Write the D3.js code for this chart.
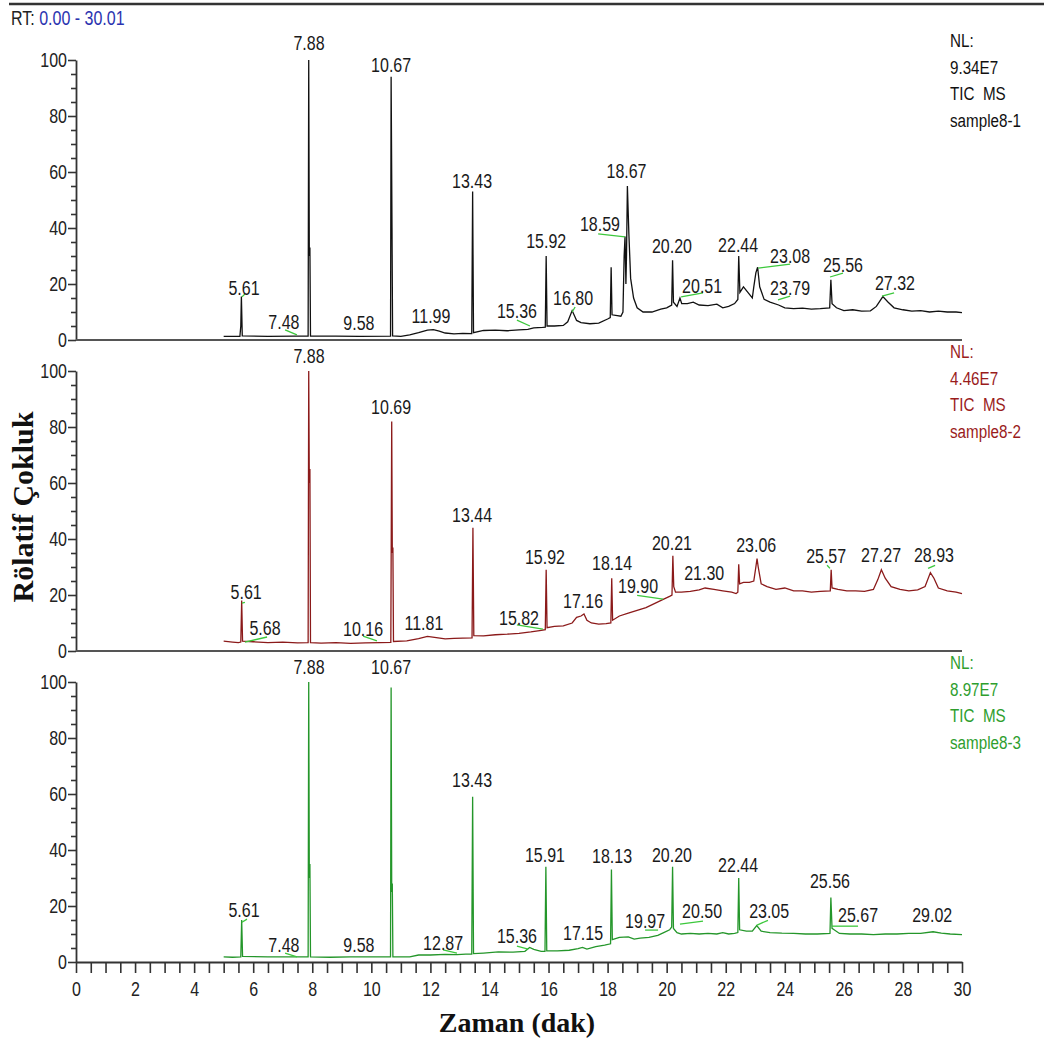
<!DOCTYPE html>
<html>
<head>
<meta charset="utf-8">
<script src="https://cdn.jsdelivr.net/npm/d3@7"></script>
<style>
  body { margin: 0; background: #fff; }
  svg { display: block; }
  .narrow { font-family: 'Liberation Sans', Arial, sans-serif; white-space: pre; }
  .serif { font-family: 'Liberation Serif', 'Times New Roman', serif; font-weight: bold; }
</style>
</head>
<body>
<svg id="chart"></svg>
<script>
// ---- data: [time (min), relative abundance %] ----
const traceSample1 = [
  [5.00, 1.3], [5.55, 1.3], [5.58, 5], [5.60, 15.5], [5.63, 1.5], [6.5, 1.3], [7.40, 1.4], [7.86, 1.4],
  [7.88, 100], [7.90, 30], [7.92, 33], [7.94, 1.4], [8.8, 1.4], [9.6, 1.3], [10.65, 1.4],
  [10.67, 94], [10.70, 40], [10.72, 1.5], [11.0, 1.3], [11.3, 1.8], [11.6, 2.6], [11.9, 3.5],
  [12.1, 3.7], [12.3, 3.2], [12.5, 2.5], [12.8, 2.2], [13.1, 2.4], [13.40, 2.3], [13.43, 53],
  [13.46, 2.6], [13.8, 3.4], [14.2, 3.5], [14.6, 3.3], [15.0, 3.6], [15.3, 3.8], [15.5, 4.3],
  [15.8, 4.5], [15.89, 4.6], [15.92, 30], [15.95, 5], [16.2, 5.0], [16.5, 5.2], [16.65, 6.5],
  [16.8, 10.5], [16.95, 7], [17.1, 6.2], [17.4, 5.8], [17.7, 6.0], [18.0, 7.5], [18.09, 8],
  [18.12, 26], [18.15, 9], [18.45, 8.5], [18.52, 10], [18.56, 30], [18.59, 37], [18.62, 20],
  [18.64, 30], [18.67, 55], [18.72, 38], [18.78, 22], [18.88, 15], [19.0, 11.5], [19.2, 10],
  [19.5, 10], [19.8, 11], [20.0, 11.5], [20.17, 12.5], [20.20, 28.5], [20.23, 13.5], [20.35, 12],
  [20.45, 15], [20.51, 13], [20.7, 13], [20.9, 13.5], [21.1, 12.5], [21.4, 12.3], [21.7, 12.8],
  [21.9, 11.5], [22.1, 12], [22.3, 13], [22.41, 14.5], [22.44, 30], [22.48, 17], [22.6, 19],
  [22.75, 17], [22.9, 15], [22.95, 19], [23.02, 24], [23.08, 26], [23.15, 19], [23.3, 14.5],
  [23.5, 13.5], [23.79, 12.5], [24.0, 11.5], [24.3, 11.2], [24.6, 11.4], [24.9, 11], [25.2, 11.2],
  [25.52, 11.5], [25.56, 21.5], [25.6, 13], [25.75, 11.5], [26.0, 10.5], [26.3, 10.8], [26.6, 10.3],
  [26.9, 10.4], [27.1, 12], [27.32, 15.5], [27.5, 13.5], [27.7, 11.5], [28.0, 10.8], [28.3, 10.3],
  [28.6, 10.5], [28.9, 10], [29.2, 10.3], [29.5, 10], [29.8, 10], [30.0, 9.8]
];
const traceSample2 = [
  [5.00, 3.5], [5.3, 3.2], [5.5, 3.0], [5.58, 3.2], [5.61, 18], [5.64, 3.5], [6.0, 3.3], [6.5, 3.0],
  [7.0, 3.2], [7.5, 2.9], [7.86, 3], [7.88, 100], [7.90, 60], [7.92, 65], [7.94, 3], [8.3, 2.8],
  [8.8, 3.0], [9.3, 2.7], [9.8, 2.9], [10.3, 3.0], [10.66, 3.1], [10.69, 82], [10.71, 35],
  [10.73, 37], [10.75, 3.4], [11.2, 3.6], [11.6, 4.4], [11.9, 5.2], [12.2, 4.8], [12.5, 4.3],
  [12.8, 4.5], [13.1, 4.6], [13.41, 4.7], [13.44, 44], [13.47, 5.5], [13.8, 5.4], [14.2, 5.8],
  [14.6, 6.0], [15.0, 6.3], [15.4, 6.8], [15.7, 7.3], [15.89, 7.6], [15.92, 29], [15.95, 8.3],
  [16.2, 8.8], [16.5, 9], [16.8, 10], [16.95, 12], [17.1, 12.5], [17.2, 13.2], [17.3, 11],
  [17.45, 10], [17.7, 9.6], [17.95, 9.8], [18.11, 10], [18.14, 26], [18.17, 11], [18.4, 12.5],
  [18.7, 13.5], [19.0, 14.5], [19.3, 15.5], [19.6, 17], [19.9, 18.5], [20.1, 19.5], [20.18, 20],
  [20.21, 34], [20.24, 23], [20.3, 21], [20.5, 21], [20.8, 21.3], [21.1, 21.8], [21.3, 22.5],
  [21.6, 22], [21.9, 21.5], [22.2, 21], [22.35, 20.5], [22.41, 21], [22.44, 31], [22.47, 24],
  [22.6, 24.5], [22.8, 24.5], [22.95, 25], [23.02, 30], [23.06, 33], [23.1, 30], [23.2, 24],
  [23.4, 23], [23.7, 22], [24.0, 22.5], [24.3, 21.5], [24.6, 21.5], [24.9, 21], [25.2, 21.3],
  [25.54, 21.5], [25.57, 29], [25.6, 22.5], [25.8, 22], [26.1, 21.5], [26.4, 21.5], [26.7, 21.3],
  [27.0, 22], [27.15, 25.5], [27.27, 29], [27.4, 26], [27.6, 23], [27.9, 22], [28.2, 21.5],
  [28.5, 21.8], [28.75, 23], [28.93, 28], [29.05, 26], [29.2, 22.5], [29.5, 21.5], [29.8, 21],
  [30.0, 20.5]
];
const traceSample3 = [
  [5.00, 1.8], [5.3, 1.7], [5.58, 1.8], [5.61, 15], [5.64, 2], [6.5, 1.8], [7.3, 1.8], [7.86, 1.8],
  [7.88, 100], [7.90, 30], [7.92, 35], [7.94, 1.8], [8.6, 1.7], [9.3, 1.8], [10.0, 1.8], [10.65, 1.8],
  [10.67, 98], [10.69, 25], [10.71, 28], [10.73, 1.8], [11.3, 1.8], [11.6, 2.5], [12.0, 2.5],
  [12.5, 2.7], [12.9, 2.6], [13.2, 2.8], [13.40, 2.8], [13.43, 59], [13.46, 3], [13.8, 3.2],
  [14.3, 3.6], [14.8, 3.5], [15.2, 3.8], [15.36, 5.2], [15.5, 4.5], [15.75, 3.8], [15.88, 3.8],
  [15.91, 34], [15.94, 4], [16.3, 4.0], [16.7, 4.2], [17.0, 4.8], [17.15, 5.2], [17.3, 4.6],
  [17.6, 5.5], [17.9, 6], [18.10, 6.5], [18.13, 33], [18.16, 8], [18.4, 8.8], [18.7, 9], [18.9, 8.2],
  [19.1, 8.5], [19.4, 8.8], [19.7, 9.5], [19.9, 10.5], [20.1, 11.5], [20.17, 12.5], [20.20, 34],
  [20.23, 12], [20.35, 10.5], [20.5, 10], [20.8, 10.2], [21.1, 10], [21.4, 10.2], [21.7, 10],
  [21.9, 10.5], [22.1, 10], [22.3, 10.2], [22.41, 10.5], [22.44, 30], [22.47, 11.5], [22.7, 11],
  [22.9, 11], [23.05, 13], [23.2, 11], [23.5, 10.5], [23.9, 10.3], [24.3, 10.2], [24.7, 10],
  [25.1, 10], [25.53, 10.2], [25.56, 23], [25.6, 12], [25.67, 11.5], [25.85, 10.2], [26.2, 10],
  [26.6, 10], [27.0, 9.8], [27.4, 10], [27.8, 10], [28.2, 10.2], [28.6, 10.2], [29.02, 10.8],
  [29.3, 10.3], [29.6, 10], [30.0, 9.8]
];

// peak labels: [text, time, abundance] (text baseline centre)
const labelsSample1 = [
  ['5.61', 5.69, 16], ['7.48', 7.04, 3.9], ['7.88', 7.89, 103.6], ['9.58', 9.58, 3.6],
  ['10.67', 10.67, 95.7], ['11.99', 12.02, 6], ['13.43', 13.41, 54.3], ['15.36', 14.93, 7.9],
  ['15.92', 15.92, 33], ['16.80', 16.83, 12.5], ['18.59', 17.74, 38.9], ['18.67', 18.64, 57.9],
  ['20.20', 20.18, 31], ['20.51', 21.2, 16.8], ['22.44', 22.42, 31.4], ['23.08', 24.18, 27.5],
  ['23.79', 24.18, 16], ['25.56', 25.97, 24.3], ['27.32', 27.73, 17.9]
];
const labelsSample2 = [
  ['5.61', 5.76, 18.5], ['5.68', 6.4, 5.7], ['7.88', 7.89, 102.8], ['10.16', 9.72, 5.3],
  ['10.69', 10.67, 84.7], ['11.81', 11.78, 7.5], ['13.44', 13.41, 45.9], ['15.82', 15.0, 9.3],
  ['15.92', 15.88, 31], ['17.16', 17.17, 15.3], ['18.14', 18.15, 28.8], ['19.90', 19.03, 20.6],
  ['20.21', 20.18, 35.9], ['21.30', 21.27, 25.3], ['23.06', 23.03, 35.2], ['25.57', 25.4, 31.3],
  ['27.27', 27.26, 31.7], ['28.93', 29.05, 31.7]
];
const labelsSample3 = [
  ['5.61', 5.69, 16], ['7.48', 7.04, 3.5], ['7.88', 7.89, 102.8], ['9.58', 9.58, 3.5],
  ['10.67', 10.67, 102.8], ['12.87', 12.43, 4.3], ['13.43', 13.41, 62.6], ['15.36', 14.93, 6.8],
  ['15.91', 15.88, 35.6], ['17.15', 17.17, 7.8], ['18.13', 18.15, 35.2], ['19.97', 19.27, 12.1],
  ['20.20', 20.18, 35.6], ['20.50', 21.2, 15.7], ['22.44', 22.42, 32], ['23.05', 23.47, 15.7],
  ['25.56', 25.53, 26.3], ['25.67', 26.48, 14.2], ['29.02', 28.99, 14.2]
];

// green leader lines: [t1, v1, t2, v2]
const leadersSample1 = [
  [5.62, 15.4, 5.72, 16.4], [7.08, 3.6, 7.48, 1.8], [14.93, 7.1, 15.37, 5], [16.8, 10, 16.9, 11.8],
  [17.68, 37.9, 18.59, 36.8], [20.49, 15.4, 21.23, 16.8], [23.1, 25.7, 24.18, 27.1],
  [23.77, 14.3, 24.18, 15.7], [25.53, 22.5, 25.97, 23.9], [27.29, 15.7, 27.7, 16.8]
];
const leadersSample2 = [
  [5.62, 17.1, 5.72, 17.4], [5.72, 3.2, 6.47, 5], [9.72, 5.3, 10.19, 3.6], [14.93, 9.3, 15.81, 7.8],
  [19.0, 19.9, 19.88, 18.5], [25.43, 30.6, 25.53, 29.5], [28.85, 29.5, 29.09, 30.6]
];
const leadersSample3 = [
  [5.62, 14.2, 5.79, 15.3], [7.08, 3.2, 7.48, 1.8], [12.43, 4.3, 12.9, 3.2], [14.93, 5.7, 15.31, 4.6],
  [19.27, 11.4, 19.71, 11.4], [20.45, 13.5, 21.23, 14.6], [23.06, 13.2, 23.43, 14.9],
  [25.6, 12.8, 26.48, 12.8]
];

const nlSample1 = ['NL:', '9.34E7', 'TIC  MS', 'sample8-1'];
const nlSample2 = ['NL:', '4.46E7', 'TIC  MS', 'sample8-2'];
const nlSample3 = ['NL:', '8.97E7', 'TIC  MS', 'sample8-3'];

const yTicks = d3.range(0, 101, 5);
const xTicks = d3.range(0, 30.01, 0.5);

// ---- layout ----
const width = 1044, height = 1041;
const squeeze = 0.8;   // the original uses a condensed face
const svg = d3.select('#chart').attr('width', width).attr('height', height);

const x = d3.scaleLinear().domain([0, 30]).range([76, 962]);

const panels = [
  { trace: traceSample1, labels: labelsSample1, leaders: leadersSample1, nl: nlSample1, zero: 340, color: '#111111', nlColor: '#111111' },
  { trace: traceSample2, labels: labelsSample2, leaders: leadersSample2, nl: nlSample2, zero: 651, color: '#8b1a1a', nlColor: '#9a1c1c' },
  { trace: traceSample3, labels: labelsSample3, leaders: leadersSample3, nl: nlSample3, zero: 962, color: '#24962a', nlColor: '#2e9e2e' }
];

// top rule and RT header
svg.append('line').attr('x1', 9).attr('x2', width).attr('y1', 4).attr('y2', 4)
  .attr('stroke', '#333').attr('stroke-width', 2.5);
const rt = svg.append('text').attr('class', 'narrow')
  .attr('transform', `translate(11,25) scale(${squeeze},1)`).attr('font-size', 20);
rt.append('tspan').attr('fill', '#222').text('RT: ');
rt.append('tspan').attr('fill', '#2b34b0').text('0.00 - 30.01');

panels.forEach((p, i) => {
  const y = d3.scaleLinear().domain([0, 100]).range([p.zero, p.zero - 280]);
  const g = svg.append('g');

  // y axis
  const yAxis = d3.axisLeft(y).tickValues(yTicks).tickSizeOuter(0)
    .tickFormat(d => d % 20 === 0 ? d : '');
  const ya = g.append('g').attr('class', 'narrow').attr('transform', `translate(${x(0)},0)`).call(yAxis);
  ya.selectAll('.tick line').attr('x2', d => d % 20 === 0 ? -8 : -5).attr('stroke', '#333').attr('stroke-width', 1.6);
  ya.selectAll('.tick text').attr('x', -9 / squeeze).attr('transform', `scale(${squeeze},1)`)
    .attr('font-size', 20).attr('fill', '#222');
  ya.select('.domain').attr('stroke', '#333').attr('stroke-width', 1.8);

  // zero line / x axis
  if (i < 2) {
    g.append('line').attr('x1', x(0)).attr('x2', x(30)).attr('y1', p.zero).attr('y2', p.zero)
      .attr('stroke', '#555').attr('stroke-width', 2.2);
  } else {
    const xAxis = d3.axisBottom(x).tickValues(xTicks).tickSize(11).tickSizeOuter(0)
      .tickFormat(d => d % 2 === 0 ? d : '');
    const xa = g.append('g').attr('class', 'narrow').attr('transform', `translate(0,${p.zero})`).call(xAxis);
    xa.selectAll('.tick line').attr('stroke', '#333').attr('stroke-width', 1.6);
    xa.selectAll('.tick text').attr('y', 20).attr('transform', `scale(${squeeze},1)`)
      .attr('font-size', 20).attr('fill', '#222');
    xa.select('.domain').attr('stroke', '#333').attr('stroke-width', 2);
  }

  // trace
  const line = d3.line().x(d => x(d[0])).y(d => y(d[1]));
  g.append('path').datum(p.trace).attr('d', line)
    .attr('fill', 'none').attr('stroke', p.color).attr('stroke-width', 1.3)
    .attr('stroke-linejoin', 'miter');

  // leader lines
  g.selectAll('line.leader').data(p.leaders).enter().append('line').attr('class', 'leader')
    .attr('x1', d => x(d[0])).attr('y1', d => y(d[1]))
    .attr('x2', d => x(d[2])).attr('y2', d => y(d[3]))
    .attr('stroke', '#3cc83c').attr('stroke-width', 1.3);

  // peak labels
  g.selectAll('text.peak').data(p.labels).enter().append('text').attr('class', 'peak narrow')
    .attr('transform', d => `translate(${x(d[1])},${y(d[2])}) scale(${squeeze},1)`)
    .attr('text-anchor', 'middle').attr('font-size', 20).attr('fill', '#1a1a1a')
    .text(d => d[0]);

  // NL block
  g.selectAll('text.nl').data(p.nl).enter().append('text').attr('class', 'nl narrow')
    .attr('transform', (d, k) => `translate(950,${p.zero - 293 + k * 26.5}) scale(${squeeze},1)`)
    .attr('font-size', 19).attr('fill', p.nlColor)
    .text(d => d);
});

// axis titles
svg.append('text').attr('class', 'serif').attr('x', 517).attr('y', 1032)
  .attr('text-anchor', 'middle').attr('font-size', 28).attr('fill', '#111')
  .text('Zaman (dak)');
svg.append('text').attr('class', 'serif')
  .attr('transform', 'translate(33,507) rotate(-90)')
  .attr('text-anchor', 'middle').attr('font-size', 30).attr('fill', '#111')
  .text('Rölatif Çokluk');
</script>
</body>
</html>
